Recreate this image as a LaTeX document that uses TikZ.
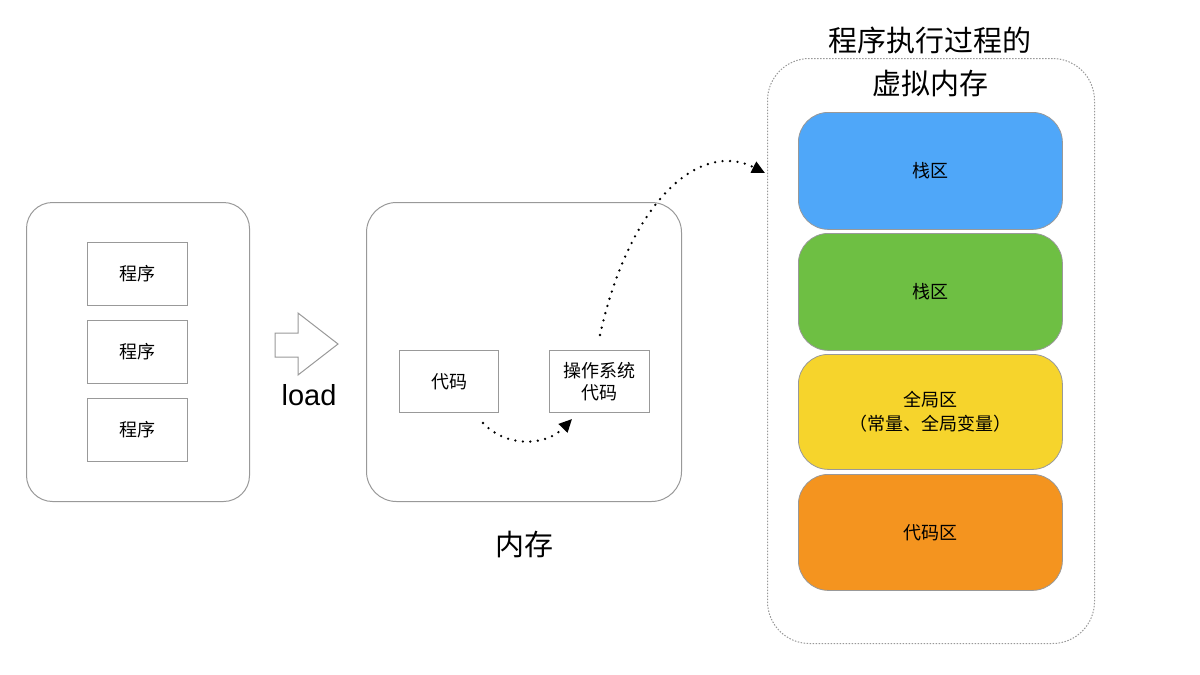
\documentclass[tikz,border=0pt]{standalone}
\usepackage{fontspec}
\setmainfont{Noto Sans CJK SC}
\newfontfamily\latinfont{Liberation Sans}
\usetikzlibrary{arrows.meta}
\definecolor{boxgray}{HTML}{999999}
\definecolor{cblue}{HTML}{4FA7F9}
\definecolor{cgreen}{HTML}{6EBF43}
\definecolor{cyellow}{HTML}{F6D42C}
\definecolor{corange}{HTML}{F4941F}
\tikzset{
  bigbox/.style={draw=boxgray, line width=1pt, rounded corners=26pt, anchor=north west, inner sep=0pt},
  smallbox/.style={draw=boxgray, line width=1pt, anchor=north west, inner sep=0pt, font=\fontsize{18}{22}\selectfont, align=center},
  zone/.style={draw=boxgray, line width=0.8pt, rounded corners=30pt, anchor=north west, inner sep=0pt, font=\fontsize{18}{24}\selectfont, align=center, minimum width=264pt},
  dotline/.style={line width=2.6pt, dash pattern=on 0pt off 7.5pt, line cap=round, -{Triangle[length=13pt,width=12pt,line cap=butt]}},
}
\begin{document}
\begin{tikzpicture}[x=1pt,y=-1pt]
\useasboundingbox (0,0) rectangle (1200,675);
% left box
\node[bigbox, minimum width=223pt, minimum height=299pt] (left) at (26,202) {};
\node[smallbox, minimum width=100pt, minimum height=63pt] (p1) at (87,242) {程序};
\node[smallbox, minimum width=100pt, minimum height=63pt] (p2) at (87,320) {程序};
\node[smallbox, minimum width=100pt, minimum height=63pt] (p3) at (87,398) {程序};
% load arrow
\draw[boxgray, line width=1pt, fill=white] (275,333) -- (298,333) -- (298,313) -- (338,344) -- (298,375) -- (298,357) -- (275,357) -- cycle;
\node[font=\latinfont\fontsize{29}{32}\selectfont] (load) at (309,395) {load};
% memory box
\node[bigbox, rounded corners=30pt, minimum width=315pt, minimum height=299pt] (mem) at (366,202) {};
\node[smallbox, minimum width=99pt, minimum height=62pt] (code) at (399,350) {代码};
\node[smallbox, minimum width=100pt, minimum height=62pt] (os) at (549,350) {操作系统\\代码};
\node[font=\fontsize{29}{32}\selectfont] (memlabel) at (524,545) {内存};
% virtual memory
\node[draw=boxgray, line width=1pt, dash pattern=on 1.5pt off 1.5pt, rounded corners=42pt, anchor=north west, minimum width=327pt, minimum height=585pt, inner sep=0pt] (vm) at (767,58) {};
\node[font=\fontsize{29}{43}\selectfont, align=center] (vmtitle) at (930,62) {程序执行过程的\\虚拟内存};
\node[zone, fill=cblue, minimum height=117pt] (stack1) at (798,112) {栈区};
\node[zone, fill=cgreen, minimum height=117pt] (stack2) at (798,233) {栈区};
\node[zone, fill=cyellow, minimum height=115pt] (global) at (798,354) {全局区\\（常量、全局变量）};
\node[zone, fill=corange, minimum height=116pt] (codez) at (798,474) {代码区};
% connectors
\coordinate (c1) at ([xshift=-16pt,yshift=-10pt]code.south east);
\coordinate (c2) at ([xshift=23pt,yshift=-6pt]os.south west);
\draw[dotline] (c1) .. controls (505,447) and (545,447) .. (c2);
\coordinate (c3) at ([xshift=51pt,yshift=15pt]os.north west);
\coordinate (c4) at ([xshift=-2pt,yshift=-115pt]vm.north west);
\draw[dotline] (c3) .. controls (630,200) and (700,140) .. (c4);
\end{tikzpicture}
\end{document}
